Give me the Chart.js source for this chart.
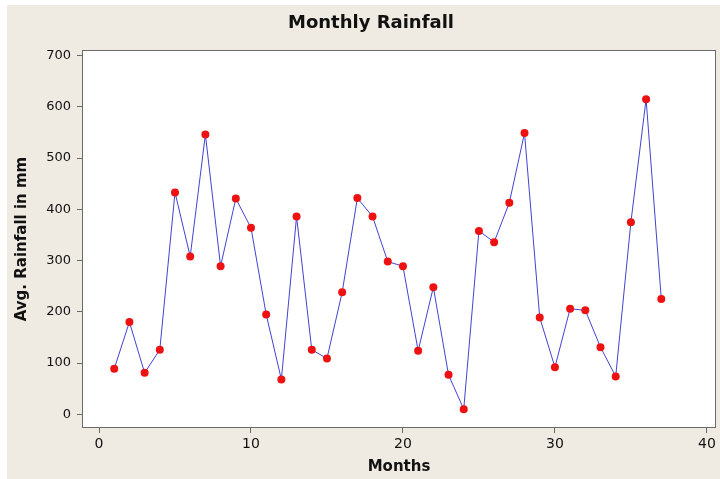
<!DOCTYPE html>
<html lang="en">
<head>
    <meta charset="UTF-8">
    <title>Monthly Rainfall</title>
    <script src="https://cdn.jsdelivr.net/npm/chart.js"></script>
    <style>
        html, body { margin: 0; padding: 0; background: #ffffff; }
        #wrap { width: 720px; height: 479px; }
    </style>
</head>
<body>
    <div id="wrap"><canvas id="myChart" width="720" height="479"></canvas></div>

    <script>
        // Data
        const months = [1, 2, 3, 4, 5, 6, 7, 8, 9, 10, 11, 12, 13, 14, 15, 16, 17, 18, 19,
                        20, 21, 22, 23, 24, 25, 26, 27, 28, 29, 30, 31, 32, 33, 34, 35, 36, 37];
        const rainfall = [89, 180, 81, 126, 433, 308, 546, 289, 421, 364, 195, 68, 386, 126, 109, 238, 422, 386, 298,
                          289, 124, 248, 77, 10, 358, 336, 413, 549, 189, 92, 206, 203, 131, 74, 375, 615, 225];
        const xTicks = [0, 10, 20, 30, 40];
        const yTicks = [0, 100, 200, 300, 400, 500, 600, 700];

        const chartTitle = 'Monthly Rainfall';
        const xTitle = 'Months';
        const yTitle = 'Avg. Rainfall in mm';

        const points = months.map((m, i) => ({ x: m, y: rainfall[i] }));

        // Beige panel, white plot frame and the title
        const panelPlugin = {
            id: 'panel',
            beforeDraw(chart) {
                const { ctx, chartArea: a } = chart;
                ctx.save();
                ctx.fillStyle = '#efebe2';
                ctx.fillRect(7, 5, chart.width - 7, chart.height - 5);
                ctx.fillStyle = '#ffffff';
                ctx.fillRect(a.left, a.top, a.right - a.left, a.bottom - a.top);
                ctx.fillStyle = '#111111';
                ctx.font = 'bold 18px "DejaVu Sans"';
                ctx.textAlign = 'center';
                ctx.textBaseline = 'middle';
                ctx.fillText(chartTitle, 371, 23);
                ctx.restore();
            },
            afterDatasetsDraw(chart) {
                const { ctx, chartArea: a } = chart;
                ctx.save();
                ctx.strokeStyle = '#6a6a6a';
                ctx.lineWidth = 1;
                ctx.strokeRect(a.left + 0.5, a.top + 0.5, a.right - a.left - 1, a.bottom - a.top - 1);
                ctx.restore();
            }
        };

        const config = {
            type: 'line',
            data: {
                datasets: [{
                    data: points,
                    borderColor: 'rgba(45, 45, 205, 0.9)',
                    borderWidth: 1,
                    pointBackgroundColor: '#ee1111',
                    pointBorderColor: '#ee1111',
                    pointBorderWidth: 0,
                    pointRadius: 4,
                    tension: 0,
                    fill: false
                }]
            },
            options: {
                responsive: false,
                animation: false,
                layout: { padding: { left: 0, right: 3, top: 50, bottom: 0 } },
                plugins: {
                    legend: { display: false },
                    title: { display: false },
                    tooltip: { enabled: false }
                },
                scales: {
                    x: {
                        type: 'linear',
                        position: 'bottom',
                        min: -1.12,
                        max: 40.6,
                        afterBuildTicks: s => { s.ticks = xTicks.map(v => ({ value: v })); },
                        afterFit: s => { s.height = 51; },
                        grid: { display: true, drawOnChartArea: false, drawTicks: true, tickLength: 5, color: '#6a6a6a' },
                        border: { display: false },
                        ticks: { color: '#111111', font: { family: 'DejaVu Sans', size: 14 }, padding: 3, maxRotation: 0 },
                        title: { display: true, text: xTitle, color: '#111111', font: { family: 'DejaVu Sans', size: 15, weight: 'bold' }, padding: { top: 0, bottom: 3 } }
                    },
                    y: {
                        type: 'linear',
                        min: -26.7,
                        max: 711,
                        afterBuildTicks: s => { s.ticks = yTicks.map(v => ({ value: v })); },
                        afterFit: s => { s.width = 82; },
                        grid: { display: true, drawOnChartArea: false, drawTicks: true, tickLength: 5, color: '#6a6a6a' },
                        border: { display: false },
                        ticks: { color: '#111111', font: { family: 'DejaVu Sans', size: 13 }, padding: 6 },
                        title: { display: true, text: yTitle, color: '#111111', font: { family: 'DejaVu Sans', size: 15, weight: 'bold' }, padding: { top: 13, bottom: 0 } }
                    }
                }
            },
            plugins: [panelPlugin]
        };

        const ctx = document.getElementById('myChart').getContext('2d');
        new Chart(ctx, config);
    </script>
</body>
</html>
